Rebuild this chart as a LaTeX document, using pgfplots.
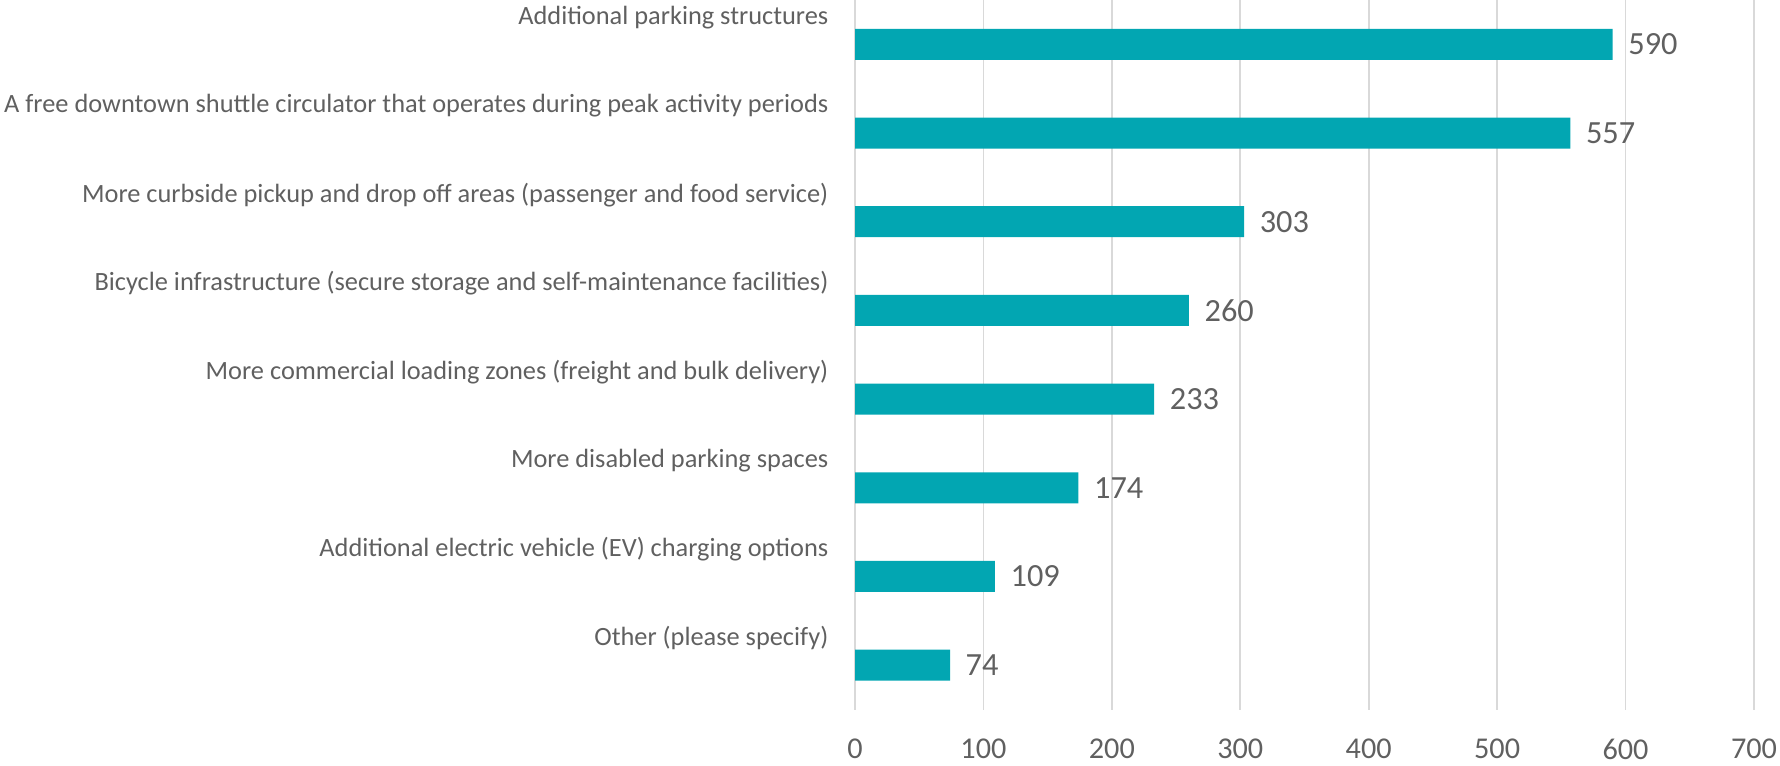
\documentclass[border=0pt]{standalone}
\usepackage{fontspec}
\setmainfont{Carlito}
\usepackage{pgfplots}
\pgfplotsset{compat=1.18}
\definecolor{barteal}{RGB}{2,166,178}
\definecolor{txtgray}{RGB}{96,96,96}
\definecolor{gridgray}{RGB}{217,217,217}
\begin{document}
\begin{tikzpicture}
\begin{axis}[
    scale only axis,
    width=89.9mm, height=70.95mm,
    xbar, bar width=3.1mm,
    xmin=0, xmax=700,
    ymin=-0.5, ymax=7.5,
    y dir=reverse,
    xtick={0,100,...,700},
    ytick={0,...,7},
    yticklabels={
        Additional parking structures,
        A free downtown shuttle circulator that operates during peak activity periods,
        More curbside pickup and drop off areas (passenger and food service),
        Bicycle infrastructure (secure storage and self-maintenance facilities),
        More commercial loading zones (freight and bulk delivery),
        More disabled parking spaces,
        Additional electric vehicle (EV) charging options,
        Other (please specify)},
    axis line style={draw=none},
    major tick length=0pt,
    xmajorgrids, grid style={gridgray, line width=0.5pt},
    /pgf/number format/assume math mode=true,
    xticklabel style={anchor=center, yshift=-3.95mm, inner sep=0pt,
        font=\fontsize{8.6}{10}\selectfont, text=txtgray},
    yticklabel style={anchor=east, xshift=-2.6mm, yshift=2.7mm, inner sep=0pt,
        font=\fontsize{7.5}{9}\selectfont, text=txtgray},
    nodes near coords,
    nodes near coords style={anchor=west, xshift=1.5mm, inner sep=0pt,
        font=\fontsize{9.2}{11}\selectfont, text=txtgray},
    clip=false,
]
\addplot[fill=barteal, draw=none] coordinates {
    (590,0) (557,1) (303,2) (260,3) (233,4) (174,5) (109,6) (74,7)
};
\coordinate (ll) at (rel axis cs:0,0);
\coordinate (ur) at (rel axis cs:1,1);
\end{axis}
\pgfresetboundingbox
\path ([shift={(-85.5mm,-5.55mm)}]ll) rectangle ([shift={(2.6mm,0mm)}]ur);
\end{tikzpicture}
\end{document}
